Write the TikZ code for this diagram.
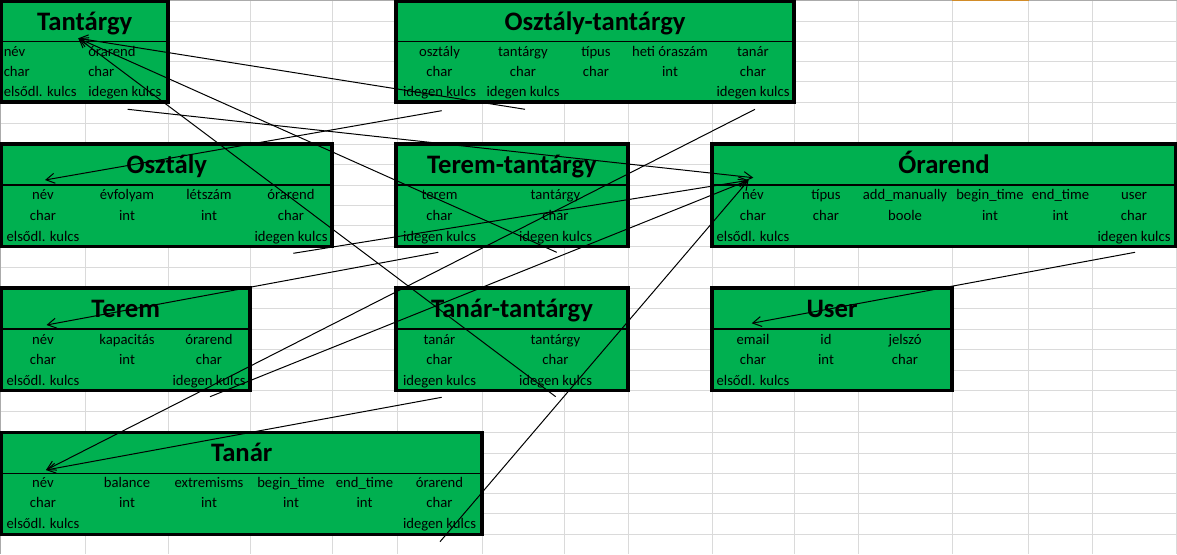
\documentclass[tikz,border=0pt]{standalone}
\usepackage{fontspec}
\setmainfont{Carlito}
\usetikzlibrary{arrows.meta}
\definecolor{xlgreen}{HTML}{00B050}
\definecolor{gridc}{RGB}{218,218,218}
\definecolor{hdrc}{RGB}{171,171,171}
\definecolor{selc}{RGB}{210,140,40}
\newcommand{\erbox}[7]{%
  \fill[xlgreen] (#2,#3) rectangle (#4,#5);
  \draw[sepline] (#2,#6) -- (#4,#6);
  \draw[boxborder] (#2,#3) rectangle (#4,#5);
  \node[ttl] (#1) at ({(#2+#4)/2},{#6-11.5}) {#7};
}
\begin{document}
\begin{tikzpicture}[x=0.75pt,y=-0.75pt,
  gridline/.style={draw=gridc, line width=0.75pt},
  boxborder/.style={draw=black, line width=2.3pt},
  sepline/.style={draw=black, line width=0.8pt},
  ttl/.style={font=\fontsize{20}{24}\selectfont\bfseries, inner sep=0pt, anchor=base},
  cell/.style={font=\fontsize{11}{13}\selectfont, inner sep=0pt, anchor=base},
  cellw/.style={cell, anchor=base west},
  fk/.style={draw=black, line width=0.75pt, -{Straight Barb[length=6.5pt,width=7.5pt]}},
]
\useasboundingbox (0,0) rectangle (1177,554);
\fill[white] (0,0) rectangle (1177,554);
% grid
\foreach \x in {85.5,168,250,332,397,482,564,628,712,794,858,952,1028.5,1092,1176}
  \draw[gridline] (\x,0) -- (\x,554);
\foreach \y in {21.7,41.7,61.7,81.7,102.3,123.3,144,164.5,185,205.3,225.7,246.5,267,288,308.3,329,349.5,370,390.7,411.7,432.3,453.3,473.3,493.3,513.3,534.3}
  \draw[gridline] (0,\y) -- (1177,\y);
\draw[hdrc, line width=1pt] (0,0.5) -- (1177,0.5);
\draw[hdrc, line width=1pt] (0.5,0) -- (0.5,554);
\draw[selc, line width=1.2pt] (952,0.6) -- (1028.5,0.6);

% ---------- boxes ----------
\erbox{tantargy}{1.5}{1.5}{168}{102}{41.7}{Tantárgy}
\node[cellw] (tgy11) at (3.5,56.2) {név};
\node[cellw] (tgy12) at (88,56.2) {órarend};
\node[cellw] (tgy21) at (3.5,76.2) {char};
\node[cellw] (tgy22) at (88,76.2) {char};
\node[cellw] (tgy31) at (3.5,96.8) {elsődl. kulcs};
\node[cellw] (tgy32) at (88,96.8) {idegen kulcs};

\erbox{osztt}{396}{1.5}{794}{102}{41.7}{Osztály-tantárgy}
\node[cell] (ot11) at (439.5,56.2) {osztály};
\node[cell] (ot12) at (523,56.2) {tantárgy};
\node[cell] (ot13) at (596,56.2) {típus};
\node[cell] (ot14) at (670,56.2) {heti óraszám};
\node[cell] (ot15) at (753,56.2) {tanár};
\node[cell] (ot21) at (439.5,76.2) {char};
\node[cell] (ot22) at (523,76.2) {char};
\node[cell] (ot23) at (596,76.2) {char};
\node[cell] (ot24) at (670,76.2) {int};
\node[cell] (ot25) at (753,76.2) {char};
\node[cell] (ot31) at (439.5,96.8) {idegen kulcs};
\node[cell] (ot32) at (523,96.8) {idegen kulcs};
\node[cell] (ot35) at (753,96.8) {idegen kulcs};

\erbox{osztaly}{1.5}{144}{332}{246.5}{185}{Osztály}
\node[cell] (osz11) at (43,199.8) {név};
\node[cell] (osz12) at (127,199.8) {évfolyam};
\node[cell] (osz13) at (209,199.8) {létszám};
\node[cell] (osz14) at (291,199.8) {órarend};
\node[cell] (osz21) at (43,220.2) {char};
\node[cell] (osz22) at (127,220.2) {int};
\node[cell] (osz23) at (209,220.2) {int};
\node[cell] (osz24) at (291,220.2) {char};
\node[cell] (osz31) at (43,241) {elsődl. kulcs};
\node[cell] (osz34) at (291,241) {idegen kulcs};

\erbox{teremt}{396}{144}{628}{246.5}{185}{Terem-tantárgy}
\node[cell] (tt11) at (439.5,199.8) {terem};
\node[cell] (tt12) at (555.5,199.8) {tantárgy};
\node[cell] (tt21) at (439.5,220.2) {char};
\node[cell] (tt22) at (555.5,220.2) {char};
\node[cell] (tt31) at (439.5,241) {idegen kulcs};
\node[cell] (tt32) at (555.5,241) {idegen kulcs};

\erbox{orarend}{712}{144}{1176}{246.5}{185}{Órarend}
\node[cell] (or11) at (753,199.8) {név};
\node[cell] (or12) at (826,199.8) {típus};
\node[cell] (or13) at (905,199.8) {add\_manually};
\node[cell] (or14) at (990,199.8) {begin\_time};
\node[cell] (or15) at (1060.5,199.8) {end\_time};
\node[cell] (or16) at (1134,199.8) {user};
\node[cell] (or21) at (753,220.2) {char};
\node[cell] (or22) at (826,220.2) {char};
\node[cell] (or23) at (905,220.2) {boole};
\node[cell] (or24) at (990,220.2) {int};
\node[cell] (or25) at (1060.5,220.2) {int};
\node[cell] (or26) at (1134,220.2) {char};
\node[cell] (or31) at (753,241) {elsődl. kulcs};
\node[cell] (or36) at (1134,241) {idegen kulcs};

\erbox{terem}{1.5}{288}{250}{390.7}{329}{Terem}
\node[cell] (ter11) at (43,344) {név};
\node[cell] (ter12) at (127,344) {kapacitás};
\node[cell] (ter13) at (209,344) {órarend};
\node[cell] (ter21) at (43,364.5) {char};
\node[cell] (ter22) at (127,364.5) {int};
\node[cell] (ter23) at (209,364.5) {char};
\node[cell] (ter31) at (43,385.2) {elsődl. kulcs};
\node[cell] (ter33) at (209,385.2) {idegen kulcs};

\erbox{tanart}{396}{288}{628}{390.7}{329}{Tanár-tantárgy}
\node[cell] (tat11) at (439.5,344) {tanár};
\node[cell] (tat12) at (555.5,344) {tantárgy};
\node[cell] (tat21) at (439.5,364.5) {char};
\node[cell] (tat22) at (555.5,364.5) {char};
\node[cell] (tat31) at (439.5,385.2) {idegen kulcs};
\node[cell] (tat32) at (555.5,385.2) {idegen kulcs};

\erbox{user}{712}{288}{952}{390.7}{329}{User}
\node[cell] (us11) at (753,344) {email};
\node[cell] (us12) at (826,344) {id};
\node[cell] (us13) at (905,344) {jelszó};
\node[cell] (us21) at (753,364.5) {char};
\node[cell] (us22) at (826,364.5) {int};
\node[cell] (us23) at (905,364.5) {char};
\node[cell] (us31) at (753,385.2) {elsődl. kulcs};

\erbox{tanar}{1.5}{432.3}{482}{534.3}{473.3}{Tanár}
\node[cell] (tn11) at (43,487.8) {név};
\node[cell] (tn12) at (127,487.8) {balance};
\node[cell] (tn13) at (209,487.8) {extremisms};
\node[cell] (tn14) at (291,487.8) {begin\_time};
\node[cell] (tn15) at (364.5,487.8) {end\_time};
\node[cell] (tn16) at (439.5,487.8) {órarend};
\node[cell] (tn21) at (43,507.8) {char};
\node[cell] (tn22) at (127,507.8) {int};
\node[cell] (tn23) at (209,507.8) {int};
\node[cell] (tn24) at (291,507.8) {int};
\node[cell] (tn25) at (364.5,507.8) {int};
\node[cell] (tn26) at (439.5,507.8) {char};
\node[cell] (tn31) at (43,528.8) {elsődl. kulcs};
\node[cell] (tn36) at (439.5,528.8) {idegen kulcs};

% ---------- connector end points ----------
\coordinate (tgyT) at (78.3,38.3);
\coordinate (oszT) at (45,180);
\coordinate (terT) at (46.5,325);
\coordinate (tanT) at (46,470);
\coordinate (oraT1) at (753.3,177.7);
\coordinate (oraT2) at (748.5,180.3);
\coordinate (usrT) at (751.7,323.3);
\coordinate (tgyS) at (127.7,109.3);
\coordinate (otOsz) at (441.7,110.7);
\coordinate (otTgy) at (525,109.3);
\coordinate (otTan) at (755,109.3);
\coordinate (oszOra) at (293.3,253.3);
\coordinate (ttTer) at (438.3,252.3);
\coordinate (ttTgy) at (556.7,252.3);
\coordinate (oraUsr) at (1135,252.3);
\coordinate (terOra) at (210,396.7);
\coordinate (tatTan) at (441.7,397.3);
\coordinate (tatTgy) at (555.7,396.7);
\coordinate (tanOra) at (440,541.7);

% ---------- connectors ----------
\draw[fk] (tgyS) -- (oraT1);
\draw[fk] (otOsz) -- (oszT);
\draw[fk] (otTgy) -- (tgyT);
\draw[fk] (otTan) -- (tanT);
\draw[fk] (oszOra) -- (oraT2);
\draw[fk] (ttTer) -- (terT);
\draw[fk] (ttTgy) -- (tgyT);
\draw[fk] (oraUsr) -- (usrT);
\draw[fk] (terOra) -- (oraT2);
\draw[fk] (tatTan) -- (tanT);
\draw[fk] (tatTgy) -- (tgyT);
\draw[fk] (tanOra) -- (oraT2);
\end{tikzpicture}
\end{document}
